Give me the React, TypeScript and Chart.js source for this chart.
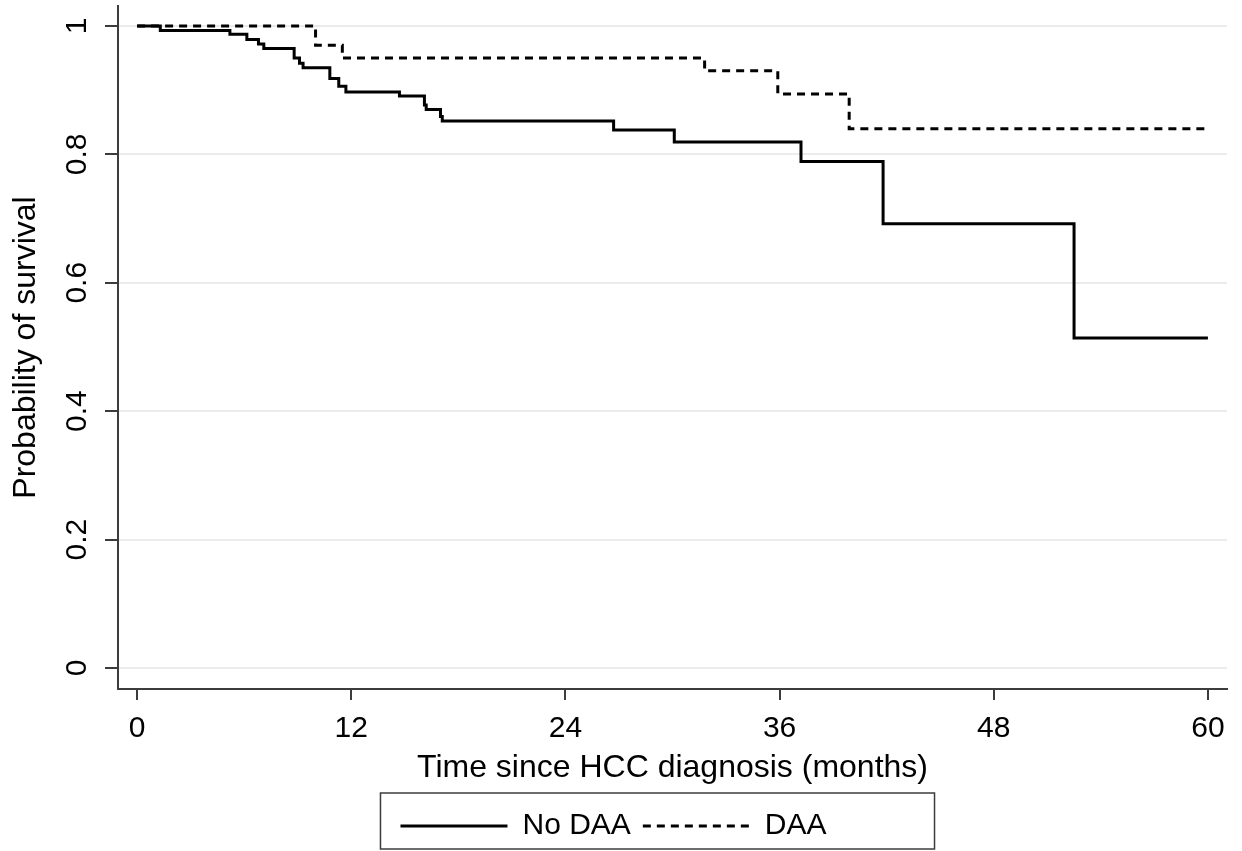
import React, { useEffect, useRef } from "react";
import { Chart, registerables } from "chart.js";

Chart.register(...registerables);

// Kaplan-Meier step data
const noDaaTimes = [0, 1.3, 5.2, 6.15, 6.8, 7.1, 8.8, 9.1, 9.3, 10.8, 11.3, 11.7, 14.7, 16.1, 16.2, 17.0, 17.1, 26.7, 30.1, 37.2, 41.8, 52.5, 60];
const noDaaSurv = [1, 0.993, 0.987, 0.979, 0.972, 0.965, 0.95, 0.942, 0.935, 0.918, 0.906, 0.897, 0.891, 0.877, 0.87, 0.859, 0.852, 0.838, 0.819, 0.789, 0.692, 0.514, 0.514];
const daaTimes = [0, 10.0, 11.5, 31.8, 35.9, 39.9, 60];
const daaSurv = [1, 0.97, 0.95, 0.93, 0.894, 0.84, 0.84];

const seriesLabels = ["No DAA", "DAA"];
const xTicks = [0, 12, 24, 36, 48, 60];
const yTicks = [0, 0.2, 0.4, 0.6, 0.8, 1];
const yTickLabels = ["0", "0.2", "0.4", "0.6", "0.8", "1"];
const xTitle = "Time since HCC diagnosis (months)";
const yTitle = "Probability of survival";

const FONT = "'Liberation Sans', Arial, Helvetica, sans-serif";
const AXIS_COLOR = "#3c3c3c";

const legendBorder = {
  id: "legendBorder",
  afterDraw(chart: any) {
    const lg = chart.legend;
    if (!lg || !lg.legendHitBoxes || !lg.legendHitBoxes.length) return;
    const boxes = lg.legendHitBoxes;
    const first = boxes[0];
    const last = boxes[boxes.length - 1];
    const left = first.left - 20;
    const right = last.left + last.width + 108;
    const top = lg.top - 6;
    const bottom = chart.height - 2;
    const ctx = chart.ctx;
    ctx.save();
    ctx.strokeStyle = AXIS_COLOR;
    ctx.lineWidth = 1.5;
    ctx.setLineDash([]);
    ctx.strokeRect(left, top, right - left, bottom - top);
    ctx.restore();
  },
};

export default function App() {
  const ref = useRef<HTMLCanvasElement | null>(null);

  useEffect(() => {
    if (!ref.current) return;
    const chart = new Chart(ref.current, {
      type: "line",
      data: {
        datasets: [
          {
            label: seriesLabels[0],
            data: noDaaTimes.map((t, i) => ({ x: t, y: noDaaSurv[i] })),
            borderColor: "#000",
            backgroundColor: "#000",
            borderWidth: 3,
            stepped: "before",
            pointRadius: 0,
            fill: false,
          },
          {
            label: seriesLabels[1],
            data: daaTimes.map((t, i) => ({ x: t, y: daaSurv[i] })),
            borderColor: "#000",
            backgroundColor: "#000",
            borderWidth: 3,
            borderDash: [8, 6],
            stepped: "before",
            pointRadius: 0,
            fill: false,
          },
        ],
      },
      options: {
        responsive: false,
        animation: false,
        events: [],
        layout: { padding: { left: 0, right: 15, top: 6, bottom: 0 } },
        plugins: {
          tooltip: { enabled: false },
          legend: {
            position: "bottom",
            labels: {
              usePointStyle: true,
              pointStyle: "line",
              pointStyleWidth: 107,
              color: "#000",
              padding: 12,
              font: { family: FONT, size: 30 },
              generateLabels: (c: any) => {
                const items = Chart.defaults.plugins.legend.labels.generateLabels(c);
                items.forEach((it: any, i: number) => {
                  const ds: any = c.data.datasets[it.datasetIndex ?? i];
                  it.lineDash = ds.borderDash || [];
                  it.lineWidth = ds.borderWidth;
                  it.strokeStyle = ds.borderColor;
                  it.pointStyle = "line";
                });
                return items;
              },
            },
          },
        },
        scales: {
          x: {
            type: "linear",
            min: -1.07,
            max: 61.07,
            afterBuildTicks: (axis: any) => {
              axis.ticks = xTicks.map((v) => ({ value: v }));
            },
            afterFit: (axis: any) => {
              axis.height = 110;
            },
            grid: {
              drawOnChartArea: false,
              tickLength: 11,
              tickColor: AXIS_COLOR,
              lineWidth: 2,
            },
            border: { display: true, color: AXIS_COLOR, width: 2 },
            ticks: {
              color: "#000",
              padding: 11,
              maxRotation: 0,
              autoSkip: false,
              font: { family: FONT, size: 30 },
              callback: (v: any) => String(v),
            },
            title: {
              display: true,
              text: xTitle,
              color: "#000",
              font: { family: FONT, size: 32 },
              padding: { top: 0, bottom: 12 },
            },
          },
          y: {
            type: "linear",
            min: -0.0327,
            max: 1.031,
            afterBuildTicks: (axis: any) => {
              axis.ticks = yTicks.map((v) => ({ value: v }));
            },
            afterFit: (axis: any) => {
              axis.width = 118;
              axis.paddingTop = 0;
              axis.paddingBottom = 0;
            },
            grid: {
              color: "#ebebeb",
              lineWidth: 2,
              tickLength: 13,
              tickColor: AXIS_COLOR,
            },
            border: { display: true, color: AXIS_COLOR, width: 2 },
            ticks: {
              color: "#000",
              minRotation: 90,
              maxRotation: 90,
              crossAlign: "center",
              padding: 6,
              autoSkip: false,
              font: { family: FONT, size: 30 },
              callback: (v: any) => {
                const i = yTicks.findIndex((t) => Math.abs(t - Number(v)) < 1e-9);
                return i >= 0 ? yTickLabels[i] : "";
              },
            },
            title: {
              display: true,
              text: yTitle,
              color: "#000",
              font: { family: FONT, size: 32 },
              padding: { top: 7, bottom: 0 },
            },
          },
        },
      },
      plugins: [legendBorder],
    } as any);
    return () => chart.destroy();
  }, []);

  return (
    <div style={{ position: "absolute", left: 0, top: 0, width: 1242, height: 851, background: "#fff" }}>
      <canvas ref={ref} width={1242} height={851} style={{ display: "block" }} />
    </div>
  );
}
